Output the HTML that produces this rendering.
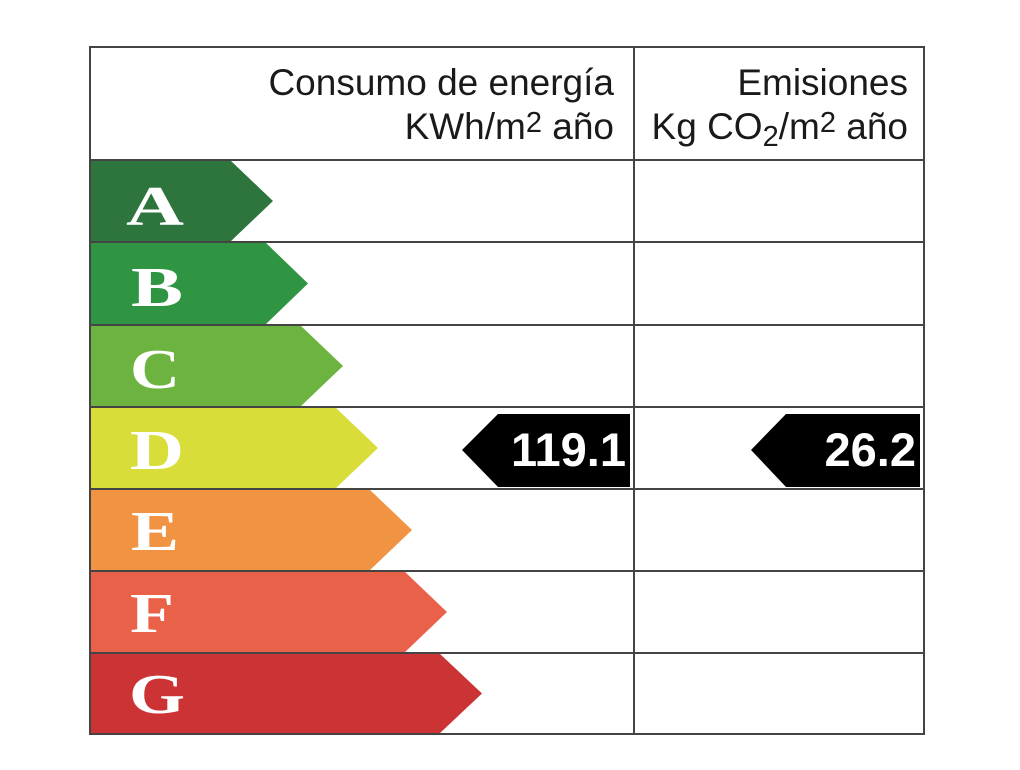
<!DOCTYPE html>
<html><head><meta charset="utf-8"><style>body{margin:0;background:#fff}</style></head>
<body>
<svg width="1020" height="765" viewBox="0 0 1020 765" xmlns="http://www.w3.org/2000/svg" font-family="Liberation Sans, sans-serif">
<rect width="1020" height="765" fill="#fff"/>
<g>
<polygon points="90,160 230,160 273,201 230,242 90,242" fill="#2e743d"/>
<polygon points="90,242 265,242 308,283.5 265,325 90,325" fill="#2f9543"/>
<polygon points="90,325 300,325 343,366 300,407 90,407" fill="#6cb33f"/>
<polygon points="90,407 335,407 378,448 335,489 90,489" fill="#d9dd3a"/>
<polygon points="90,489 369,489 412,530 369,571 90,571" fill="#f09342"/>
<polygon points="90,571 404,571 447,612 404,653 90,653" fill="#ea614a"/>
<polygon points="90,653 439,653 482,693.5 439,734 90,734" fill="#cc3334"/>
</g>
<g fill="#fff" font-family="Liberation Serif, serif" font-weight="bold" font-size="56" text-anchor="middle">
<text x="155" y="225" textLength="58" lengthAdjust="spacingAndGlyphs">A</text>
<text x="157" y="306" textLength="52" lengthAdjust="spacingAndGlyphs">B</text>
<text x="155" y="388" textLength="50" lengthAdjust="spacingAndGlyphs">C</text>
<text x="157" y="469" textLength="54" lengthAdjust="spacingAndGlyphs">D</text>
<text x="155" y="550" textLength="48" lengthAdjust="spacingAndGlyphs">E</text>
<text x="152" y="632" textLength="44" lengthAdjust="spacingAndGlyphs">F</text>
<text x="157" y="713" textLength="56" lengthAdjust="spacingAndGlyphs">G</text>
</g>
<g stroke="#444" stroke-width="2" fill="none">
<rect x="90" y="47" width="834" height="687"/>
<line x1="634" y1="47" x2="634" y2="734"/>
<line x1="90" y1="160" x2="924" y2="160"/>
<line x1="90" y1="242" x2="924" y2="242"/>
<line x1="90" y1="325" x2="924" y2="325"/>
<line x1="90" y1="407" x2="924" y2="407"/>
<line x1="90" y1="489" x2="924" y2="489"/>
<line x1="90" y1="571" x2="924" y2="571"/>
<line x1="90" y1="653" x2="924" y2="653"/>
</g>
<polygon points="462,450 498,414 630,414 630,487 498,487" fill="#000"/>
<polygon points="751,450 786,414 920,414 920,487 786,487" fill="#000"/>
<g fill="#fff" font-weight="bold" font-size="47" text-anchor="end">
<text x="626" y="466">119.1</text>
<text x="916" y="466">26.2</text>
</g>
<g fill="#1a1a1a" font-size="37" text-anchor="end">
<text x="614" y="95">Consumo de energía</text>
<text x="614" y="139">KWh/m<tspan font-size="29" dy="-7">2</tspan><tspan dy="7"> año</tspan></text>
<text x="908" y="95">Emisiones</text>
<text x="908" y="139">Kg CO<tspan font-size="29" dy="7">2</tspan><tspan dy="-7">/m</tspan><tspan font-size="29" dy="-7">2</tspan><tspan dy="7"> año</tspan></text>
</g>
</svg>
</body></html>
